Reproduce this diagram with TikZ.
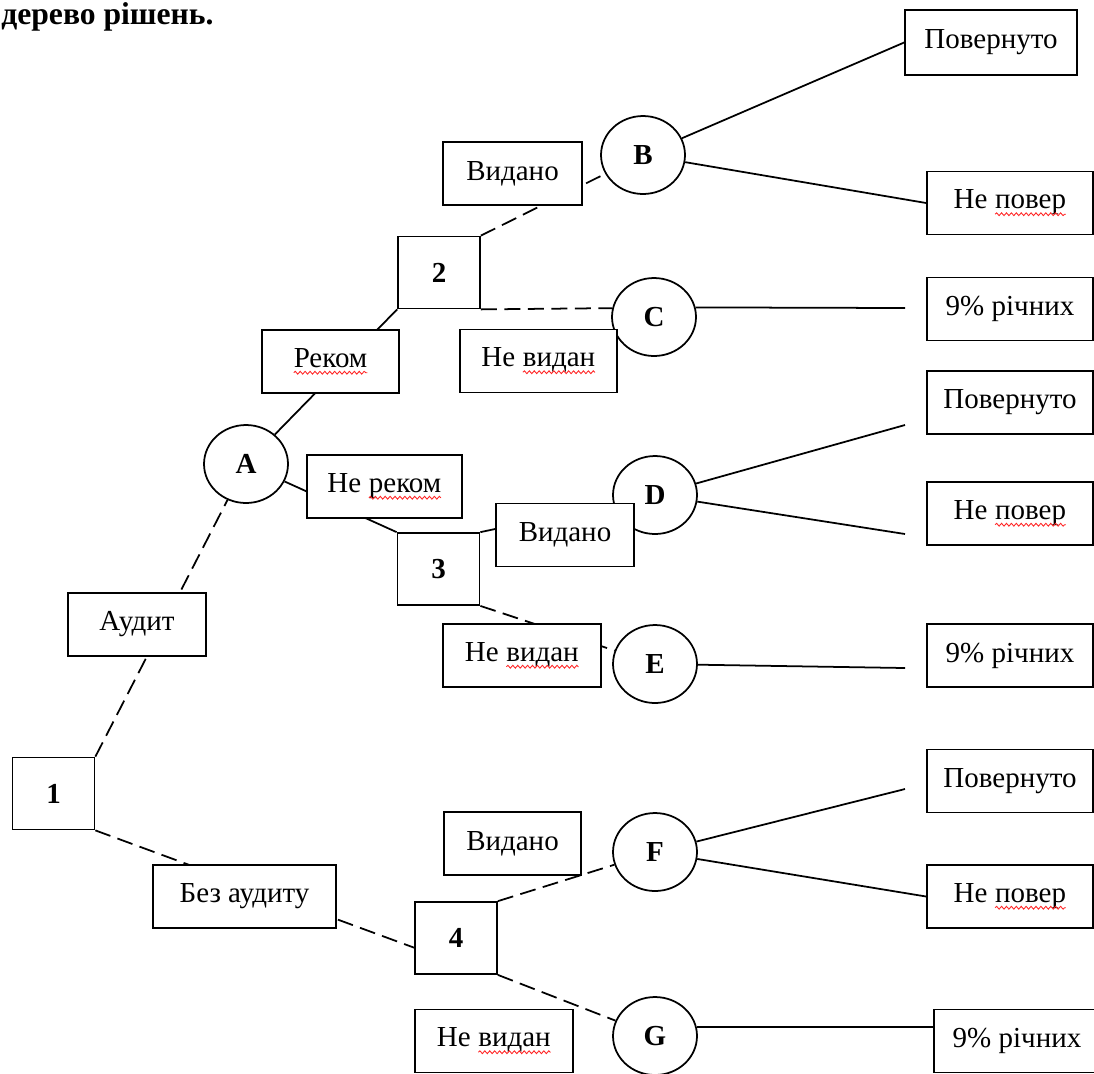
\documentclass[tikz,border=0pt]{standalone}
\usepackage{fontspec}
\setmainfont{Liberation Serif}
\usetikzlibrary{shapes.geometric, decorations.pathmorphing}
\newcommand{\typo}[1]{\tikz[baseline=(w.base)]{\node[inner sep=0pt, outer sep=0pt, draw=none, fill=none, minimum size=0pt, anchor=base] (w) at (0,0) {#1};
    \draw[red!85, line width=0.5pt, decorate, decoration={snake, amplitude=0.8pt, segment length=2.8pt}] ([yshift=-3pt]w.base west) -- ([yshift=-3pt]w.base east);}}
\newcommand{\boxfont}{\fontsize{16.5}{19}\selectfont}
\tikzstyle{dnode} = [rectangle, draw=black, fill=white, line width=1pt,
    minimum width=1.64cm, minimum height=1.44cm, font=\boxfont\bfseries]
\tikzstyle{cnode} = [ellipse, draw=black, fill=white, line width=1pt, inner sep=0pt,
    minimum width=1.68cm, minimum height=1.56cm, font=\boxfont\bfseries]
\tikzstyle{branch} = [rectangle, draw=black, fill=white, line width=1pt,
    minimum height=1.26cm, inner sep=2pt, font=\boxfont]
\tikzstyle{outcome} = [branch, minimum width=3.32cm]
\tikzstyle{link} = [line width=1pt]
\tikzstyle{dlink} = [line width=1pt, dash pattern=on 0.32cm off 0.15cm]

\begin{document}
\begin{tikzpicture}[x=0.02cm, y=-0.02cm]
\useasboundingbox (0,0) rectangle (1094,1073);
\node (title) [anchor=base west, inner sep=0pt, font=\fontsize{18}{21}\selectfont\bfseries] at (1,24) {дерево рішень.};

% decision nodes
\node (d1) [dnode] at (53.5,793.5) {1};
\node (d2) [dnode] at (439,272.5) {2};
\node (d3) [dnode] at (438.5,569) {3};
\node (d4) [dnode] at (456,938) {4};

% chance nodes
\node (A) [cnode] at (246,464) {A};
\node (B) [cnode] at (643,155) {B};
\node (C) [cnode] at (654,317) {C};
\node (D) [cnode] at (655,495) {D};
\node (E) [cnode] at (655,664) {E};
\node (F) [cnode] at (655,852) {F};
\node (G) [cnode] at (655,1036) {G};

% outcomes
\node (retB) [outcome, minimum width=3.44cm, minimum height=1.3cm] at (991,42.5) {Повернуто};
\node (lossB) [outcome] at (1010,203) {Не \typo{повер}};
\node (rateC) [outcome] at (1010,309) {9\% річних};
\node (retD) [outcome] at (1010,402.5) {Повернуто};
\node (lossD) [outcome] at (1010,513.5) {Не \typo{повер}};
\node (rateE) [outcome] at (1010,655.5) {9\% річних};
\node (retF) [outcome] at (1010,781) {Повернуто};
\node (lossF) [outcome] at (1010,896.5) {Не \typo{повер}};
\node (rateG) [outcome] at (1017,1041) {9\% річних};

\coordinate (endC) at (905,308);
\coordinate (endD1) at (905,425);
\coordinate (endD2) at (905,534);
\coordinate (endE) at (905,668);
\coordinate (endF) at (905,789);

% branches
\draw[dlink] (d1.north east) -- (A);
\draw[dlink] (d1.south east) -- (d4.193);
\draw[link] (A) -- (d2.south west);
\draw[link] (A) -- (d3.north west);
\draw[dlink] (d2.north east) -- (B);
\draw[dlink] (d2.south east) -- (C.168);
\draw[link] (d3.north east) -- (D);
\draw[dlink] (d3.south east) -- (E);
\draw[dlink] (d4.north east) -- (F);
\draw[dlink] (d4.south east) -- (G);
\draw[link] (B) -- (retB.west);
\draw[link] (B) -- (lossB.west);
\draw[link] (C.13) -- (endC);
\draw[link] (D) -- (endD1);
\draw[link] (D) -- (endD2);
\draw[link] (E) -- (endE);
\draw[link] (F) -- (endF);
\draw[link] (F) -- (lossF.west);
\draw[link] (G.12) -- (G.12 -| rateG.west);

% labels on the branches
\node (audit) [branch, minimum width=2.76cm] at (137,624.5) {Аудит};
\node (noaudit) [branch, minimum width=3.66cm] at (244.5,896.5) {Без аудиту};
\node (rec) [branch, minimum width=2.74cm] at (330.5,361.5) {\typo{Реком}};
\node (norec) [branch, minimum width=3.1cm] at (384.5,486.5) {Не \typo{реком}};
\node (iss2) [branch, minimum width=2.78cm] at (512.5,173.5) {Видано};
\node (noiss2) [branch, minimum width=3.14cm] at (538.5,361) {Не \typo{видан}};
\node (iss3) [branch, minimum width=2.76cm] at (565,535) {Видано};
\node (noiss3) [branch, minimum width=3.16cm] at (522,655.5) {Не \typo{видан}};
\node (iss4) [branch, minimum width=2.74cm] at (512.5,843.5) {Видано};
\node (noiss4) [branch, minimum width=3.16cm] at (494,1041) {Не \typo{видан}};
\end{tikzpicture}
\end{document}
